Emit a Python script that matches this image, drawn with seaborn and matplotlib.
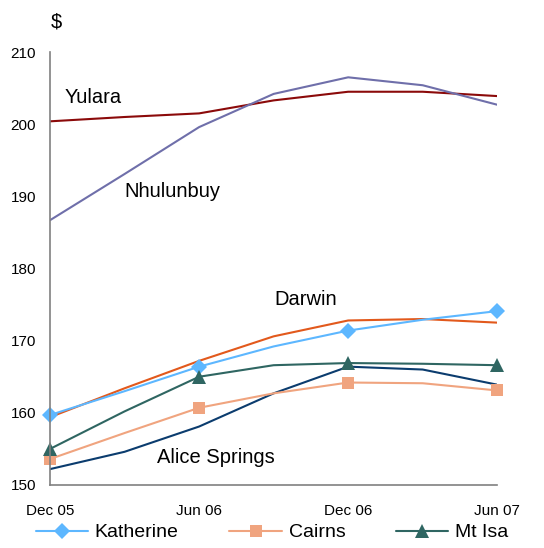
import pandas as pd
import matplotlib.pyplot as plt
import seaborn as sns

# quarterly points, months after Dec 05
months = [0, 3, 6, 9, 12, 15, 18]
tick_pos = [0, 6, 12, 18]
tick_labels = ['Dec 05', 'Jun 06', 'Dec 06', 'Jun 07']

yulara = [200.4, 201.0, 201.5, 203.3, 204.5, 204.5, 203.9]
nhulunbuy = [186.7, 193.1, 199.6, 204.2, 206.5, 205.4, 202.7]
darwin = [159.4, 163.4, 167.2, 170.6, 172.8, 173.0, 172.5]
katherine = [159.7, 163.0, 166.4, 169.2, 171.4, 172.9, 174.1]
mt_isa = [155.0, 160.2, 165.0, 166.6, 166.9, 166.8, 166.6]
cairns = [153.6, 157.2, 160.7, 162.7, 164.2, 164.1, 163.1]
alice_springs = [152.2, 154.6, 158.1, 162.7, 166.4, 166.0, 163.9]

sns.set_style('white')
plt.rcParams['font.family'] = ['Liberation Sans', 'DejaVu Sans']
plt.rcParams['text.color'] = 'black'

fig = plt.figure(figsize=(5.44, 5.48), dpi=100)
ax = fig.add_axes([0.092, 0.115, 0.822, 0.79])

# lines without legend entries
plain = [
    (yulara, '#8B0A0A'),
    (nhulunbuy, '#6F6FAA'),
    (darwin, '#E2591C'),
    (alice_springs, '#0B3C6E'),
]
for vals, col in plain:
    sns.lineplot(x=months, y=vals, ax=ax, color=col, linewidth=1.5)

marked = [
    ('Katherine', katherine, '#5DB7FF', 'D', 8),
    ('Cairns', cairns, '#F0A47F', 's', 8.5),
    ('Mt Isa', mt_isa, '#2F6662', '^', 10),
]
for name, vals, col, mk, ms in marked:
    sns.lineplot(x=months, y=vals, ax=ax, color=col, linewidth=1.5,
                 marker=mk, markersize=ms, markeredgewidth=0,
                 markevery=[0, 2, 4, 6], label=name, clip_on=False)

ax.set_xlim(0, 18)
ax.set_ylim(150, 210)
ax.set_xticks(tick_pos)
ax.set_xticklabels(tick_labels)
ax.set_yticks([150, 160, 170, 180, 190, 200, 210])
ax.tick_params(axis='both', length=0, labelsize=11, colors='black')
ax.tick_params(axis='x', pad=14)
ax.tick_params(axis='y', pad=10)
for side in ['top', 'right']:
    ax.spines[side].set_visible(False)
for side in ['left', 'bottom']:
    ax.spines[side].set_color('#808080')
    ax.spines[side].set_linewidth(1.2)

# series labels
ax.text(0.6, 203.0, 'Yulara', fontsize=14.5, color='black')
ax.text(3.0, 189.9, 'Nhulunbuy', fontsize=14.5, color='black')
ax.text(9.05, 174.9, 'Darwin', fontsize=14.5, color='black')
ax.text(4.3, 153.0, 'Alice Springs', fontsize=14.5, color='black')
fig.text(0.093, 0.96, '$', fontsize=14.5, ha='left', va='center', color='black')

ax.get_legend().remove()
handles, labels = ax.get_legend_handles_labels()
leg = fig.legend(handles, labels, loc='center', bbox_to_anchor=(0.5, 0.028),
                 ncol=3, frameon=False, fontsize=14, handlelength=2.7,
                 columnspacing=2.6, handletextpad=0.35)
for t in leg.get_texts():
    t.set_color('black')

fig.savefig('out.png', dpi=100)
